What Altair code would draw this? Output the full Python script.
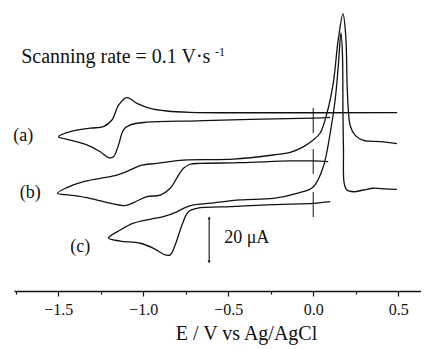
import altair as alt
import pandas as pd

# ---- traces (E in V, I in uA, curves drawn with vertical offsets) ----
E_a = [0.1, 0.0, -0.371, -0.684, -0.978, -1.076, -1.116, -1.145, -1.175, -1.204, -1.253, -1.331, -1.429, -1.498,
       -1.429, -1.312, -1.234, -1.184, -1.145, -1.096, -1.037, -0.959, -0.861, -0.724, -0.371, 0.494]
I_a = [78.9, 78.6, 78.0, 77.3, 76.7, 75.5, 73.2, 66.4, 61.0, 60.6, 63.3, 66.4, 68.6, 70.1,
       72.4, 74.0, 74.7, 77.7, 84.5, 87.9, 85.3, 83.0, 81.8, 81.2, 81.0, 81.1]

E_b = [0.088, 0.0, -0.135, -0.429, -0.665, -0.724, -0.763, -0.792, -0.841, -0.9, -0.978, -1.037, -1.106, -1.194,
       -1.312, -1.429, -1.504,
       -1.449, -1.351, -1.253, -1.155, -1.076, -1.018, -0.919, -0.763, -0.471, -0.235, -0.135, -0.059, 0.0, 0.041,
       0.081, 0.118, 0.147, 0.175, 0.191, 0.2, 0.208, 0.218, 0.247, 0.296, 0.394, 0.492]
I_b = [58.8, 59.1, 59.1, 58.3, 58.0, 57.6, 55.8, 52.7, 46.7, 43.6, 42.9, 40.9, 38.8, 39.9,
       42.1, 43.6, 44.4,
       47.0, 49.7, 51.2, 52.7, 55.0, 57.0, 58.0, 59.5, 59.9, 61.8, 63.0, 65.5, 68.6, 71.8,
       80.9, 94.5, 114.1, 125.9, 116.4, 92.3, 80.9, 75.0, 70.7, 68.4, 67.9, 67.0]

E_c = [0.1, 0.0, -0.135, -0.429, -0.488, -0.684, -0.734, -0.772, -0.812, -0.841, -0.871, -0.939, -1.018, -1.135,
       -1.204,
       -1.135, -1.057, -0.959, -0.881, -0.802, -0.753, -0.704, -0.606, -0.429, -0.235, -0.096, 0.0, 0.059, 0.1,
       0.129, 0.147, 0.163, 0.172, 0.175, 0.178, 0.182, 0.198, 0.237, 0.296, 0.355, 0.424, 0.492]
I_c = [40.6, 39.8, 39.5, 38.6, 38.3, 37.6, 36.0, 30.0, 20.9, 16.4, 16.4, 19.4, 21.7, 22.7,
       24.0,
       27.7, 30.8, 32.6, 33.8, 36.0, 37.9, 39.1, 39.9, 41.4, 42.1, 44.4, 47.3, 56.4, 71.8,
       86.8, 101.8, 117.3, 107.3, 80.0, 64.1, 49.0, 45.9, 45.1, 45.9, 46.7, 46.4, 46.2]

# start-potential markers at E = 0 for each curve
start_E = [0.0, 0.0, 0.0]
start_I1 = [71.8, 53.2, 33.6]
start_I2 = [83.2, 64.5, 45.0]

# 20 uA scale bar
bar_E = [-0.612]
bar_I1 = [13.2]
bar_I2 = [33.2]

# text labels
lab_text = ["(a)", "(b)", "(c)"]
lab_E = [-1.706, -1.665, -1.371]
lab_I = [70.5, 44.5, 20.0]

tick_values = [-1.75, -1.5, -1.25, -1.0, -0.75, -0.5, -0.25, 0.0, 0.25, 0.5]

rows = []
for name, Es, Is in (("a", E_a, I_a), ("b", E_b, I_b), ("c", E_c, I_c)):
    for k, (e, i) in enumerate(zip(Es, Is)):
        rows.append({"curve": name, "E": e, "I": i, "k": k})
df = pd.DataFrame(rows)

FONT = "Liberation Serif"
INK = "#111111"

xscale = alt.Scale(domain=[-1.76, 0.634], nice=False, zero=False)
yscale = alt.Scale(domain=[0, 127.7], nice=False, zero=False)

major = "abs(datum.value*2 - round(datum.value*2)) < 0.001"

xaxis = alt.Axis(
    values=tick_values,
    labelExpr=f"{major} ? format(datum.value, '.1f') : ''",
    tickSize={"condition": {"test": major, "value": 5}, "value": 3},
    grid=False,
    domainColor=INK, domainWidth=1.4,
    tickColor=INK, tickWidth=1.2,
    labelFont=FONT, labelFontSize=16, labelColor=INK, labelPadding=5,
    labelOverlap=False, labelFlush=False,
    titleFont=FONT, titleFontSize=20, titleFontWeight="normal", titleColor=INK,
    titlePadding=6, titleX=232, titleAlign="center",
)

lines = alt.Chart(df).mark_line(color=INK, strokeWidth=1.3, interpolate="catmull-rom").encode(
    x=alt.X("E:Q", scale=xscale, axis=xaxis, title="E / V vs  Ag/AgCl"),
    y=alt.Y("I:Q", scale=yscale, axis=None),
    detail="curve:N",
    order="k:Q",
)

starts = alt.Chart(pd.DataFrame({"E": start_E, "I1": start_I1, "I2": start_I2})).mark_rule(
    color=INK, strokeWidth=1.0
).encode(x="E:Q", y="I1:Q", y2="I2:Q")

bar_df = pd.DataFrame({"E": bar_E, "I1": bar_I1, "I2": bar_I2})
bar = alt.Chart(bar_df).mark_rule(color=INK, strokeWidth=1.1).encode(x="E:Q", y="I1:Q", y2="I2:Q")
bar_top = alt.Chart(bar_df).mark_point(shape="triangle-up", filled=True, color=INK, size=10, opacity=1).encode(
    x="E:Q", y="I2:Q")
bar_bot = alt.Chart(bar_df).mark_point(shape="triangle-down", filled=True, color=INK, size=10, opacity=1).encode(
    x="E:Q", y="I1:Q")

labels = alt.Chart(pd.DataFrame({"t": lab_text, "E": lab_E, "I": lab_I})).mark_text(
    font=FONT, fontSize=18, color=INK, align="center", baseline="middle"
).encode(x="E:Q", y="I:Q", text="t:N")

bar_label = alt.Chart(pd.DataFrame({"t": ["20 μA"], "E": [-0.524], "I": [24.1]})).mark_text(
    font=FONT, fontSize=18, color=INK, align="left", baseline="middle"
).encode(x="E:Q", y="I:Q", text="t:N")

rate = alt.Chart(pd.DataFrame({"t": ["Scanning rate = 0.1 V·s"], "E": [-1.718], "I": [106.4]})).mark_text(
    font=FONT, fontSize=20, color=INK, align="left", baseline="middle"
).encode(x="E:Q", y="I:Q", text="t:N")

rate_sup = alt.Chart(pd.DataFrame({"t": ["-1"], "E": [-0.578], "I": [108.8]})).mark_text(
    font=FONT, fontSize=12, color=INK, align="left", baseline="middle"
).encode(x="E:Q", y="I:Q", text="t:N")

chart = alt.layer(lines, starts, bar, bar_top, bar_bot, labels, bar_label, rate, rate_sup).properties(
    width=407, height=281,
    padding={"left": 6, "top": 2, "right": 0, "bottom": 56},
    autosize=alt.AutoSizeParams(type="none"),
    background="white",
).configure_view(stroke=None)

chart.save("out.html", embed_options={"renderer": "svg", "actions": False})
